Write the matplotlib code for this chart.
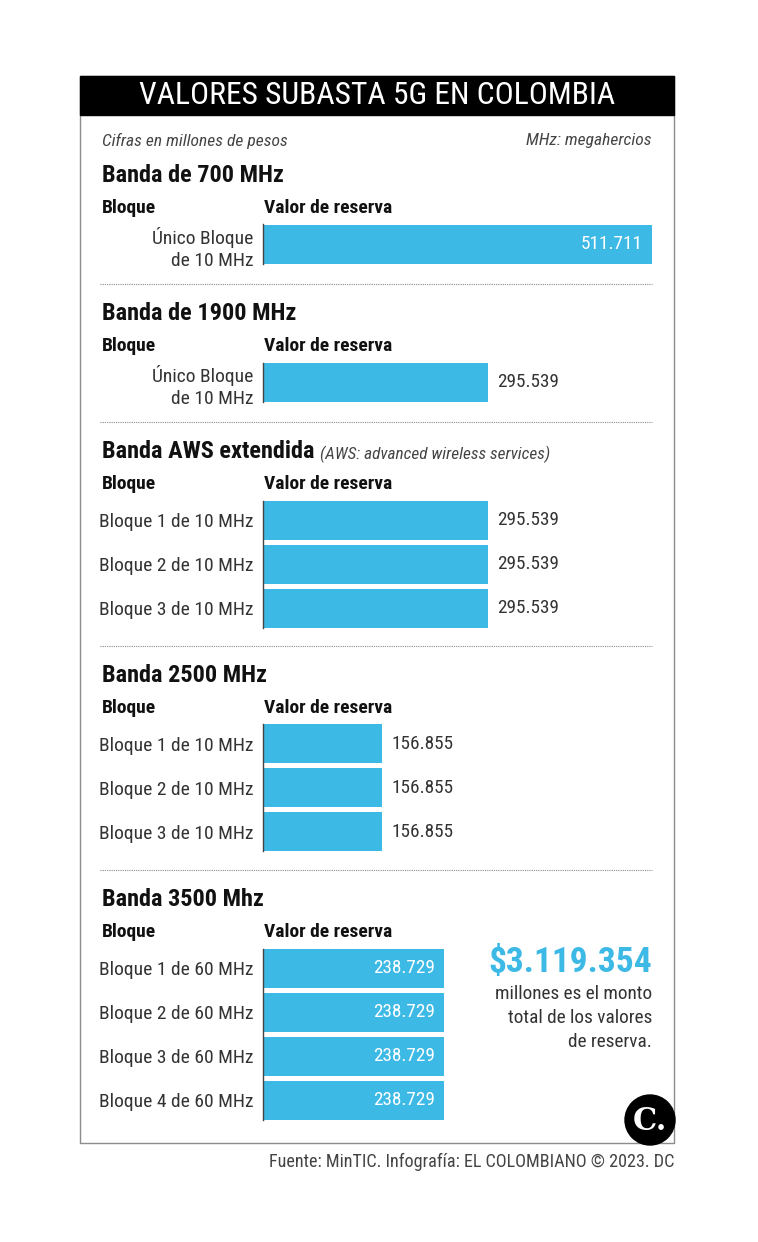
import matplotlib.pyplot as plt
from matplotlib.patches import Rectangle, Circle

# data (millones de pesos)
bands = ['Banda de 700 MHz', 'Banda de 1900 MHz', 'Banda AWS extendida',
         'Banda 2500 MHz', 'Banda 3500 Mhz']
band_notes = ['', '', '(AWS: advanced wireless services)', '', '']
blocks = [
    ['Único Bloque\nde 10 MHz'],
    ['Único Bloque\nde 10 MHz'],
    ['Bloque 1 de 10 MHz', 'Bloque 2 de 10 MHz', 'Bloque 3 de 10 MHz'],
    ['Bloque 1 de 10 MHz', 'Bloque 2 de 10 MHz', 'Bloque 3 de 10 MHz'],
    ['Bloque 1 de 60 MHz', 'Bloque 2 de 60 MHz', 'Bloque 3 de 60 MHz', 'Bloque 4 de 60 MHz'],
]
values = [
    [511711],
    [295539],
    [295539, 295539, 295539],
    [156855, 156855, 156855],
    [238729, 238729, 238729, 238729],
]
inside_label = [True, False, False, False, True]
total = 3119354

W, H = 758, 1242
BLUE = '#3db9e5'
FONT = ['Roboto Condensed', 'Roboto', 'DejaVu Sans']
plt.rcParams['font.family'] = FONT


def fmt(v):
    return f'{v:,}'.replace(',', '.')


def px_rect(x0, y0, x1, y1):
    return [x0 / W, 1 - y1 / H, (x1 - x0) / W, (y1 - y0) / H]


fig = plt.figure(figsize=(W / 100, H / 100), dpi=100)
bg = fig.add_axes([0, 0, 1, 1])
bg.set_xlim(0, W)
bg.set_ylim(H, 0)
bg.axis('off')

# frame + title band
bg.add_patch(Rectangle((80, 76), 594, 1067, fill=False, ec='#8c8c8c', lw=1))
bg.add_patch(Rectangle((80, 76), 594, 39, color='black'))
bg.text(377, 96, 'VALORES SUBASTA 5G EN COLOMBIA', color='white',
        fontsize=22.8, ha='center', va='center')
bg.text(102, 141, 'Cifras en millones de pesos', style='italic',
        color='#444444', fontsize=12.6, va='center')
bg.text(652, 141, 'MHz: megahercios', style='italic', color='#444444',
        fontsize=12.6, va='center', ha='right')

# layout of each section (pixel rows)
title_y = [176, 314, 452, 676, 900]
bars_top = [222, 360, 498, 722, 946]
sep_y = [284, 422, 646, 870]
PITCH = 44
vmax = max(max(v) for v in values)

for i, band in enumerate(bands):
    bg.text(102, title_y[i], band, fontsize=17.5, fontweight='bold',
            va='center', color='#111111')
    if band_notes[i]:
        bg.text(320, title_y[i] + 2, band_notes[i], fontsize=12.4,
                style='italic', color='#444444', va='center')
    bg.text(102, title_y[i] + 32, 'Bloque', fontsize=14,
            fontweight='bold', va='center', color='#111111')
    bg.text(264, title_y[i] + 32, 'Valor de reserva', fontsize=14,
            fontweight='bold', va='center', color='#111111')

    n = len(values[i])
    ax = fig.add_axes(px_rect(263, bars_top[i], 652, bars_top[i] + n * PITCH))
    ypos = list(range(n))
    ax.barh(ypos, values[i], height=39 / PITCH, color=BLUE)
    ax.set_xlim(0, vmax)
    ax.set_ylim(n - 0.5, -0.5)
    ax.set_xticks([])
    ax.set_yticks(ypos, blocks[i], fontsize=14, color='#333333',
                  linespacing=1.34)
    for lab in ax.get_yticklabels():
        lab.set_horizontalalignment('right')
        lab.set_multialignment('right')
    ax.tick_params(axis='y', length=0, pad=7)
    ax.patch.set_alpha(0)
    for s in ['top', 'right', 'bottom']:
        ax.spines[s].set_visible(False)
    ax.spines['left'].set_color('#444444')
    ax.spines['left'].set_linewidth(1)
    ax.spines['left'].set_bounds(-0.5 + (PITCH - 39) / PITCH / 2,
                                 n - 0.5 - (PITCH - 39) / PITCH / 2)
    for y, v in zip(ypos, values[i]):
        if inside_label[i]:
            ax.annotate(fmt(v), (v, y), xytext=(-7, 0),
                        textcoords='offset points', ha='right', va='center',
                        color='white', fontsize=13.9)
        else:
            ax.annotate(fmt(v), (v, y), xytext=(7, 0),
                        textcoords='offset points', ha='left', va='center',
                        color='#333333', fontsize=13.9)

for y in sep_y:
    bg.plot([100, 652], [y, y], ls=(0, (1, 1)), color='#8a8a8a', lw=0.8)

# total
bg.text(652, 962, '$' + fmt(total), color=BLUE, fontsize=25.5,
        fontweight='bold', ha='right', va='center')
bg.text(652, 1018, 'millones es el monto\ntotal de los valores\nde reserva.',
        fontsize=13.9, color='#333333', ha='right', va='center',
        multialignment='right', linespacing=1.4)

# logo
bg.add_patch(Circle((650, 1120), 25, color='black', zorder=5))
bg.text(650, 1121, 'C.', color='white', fontsize=22, fontweight='bold',
        family='DejaVu Serif', ha='center', va='center', zorder=6)

bg.text(674, 1162, 'Fuente: MinTIC. Infografía: EL COLOMBIANO © 2023. DC',
        fontsize=13.1, color='#444444', ha='right', va='center')

fig.savefig('out.png', dpi=100, facecolor='white')
